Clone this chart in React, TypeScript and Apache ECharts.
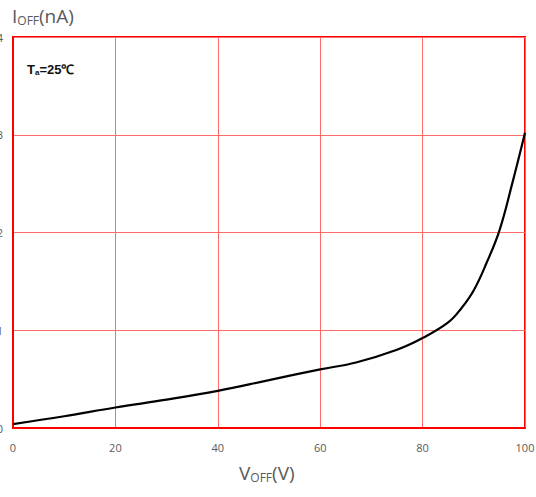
import React, { useEffect, useRef } from "react";
import * as echarts from "echarts";

const xTicks = [0, 20, 40, 60, 80, 100];
const yTicks = [0, 1, 2, 3, 4];
const curveX = [0, 10, 20, 30, 40, 50, 60, 67, 75, 80, 85, 87.5, 90, 92.5, 95, 97.5, 100];
const curveY = [0.04, 0.12, 0.21, 0.29, 0.38, 0.49, 0.6, 0.67, 0.8, 0.92, 1.08, 1.22, 1.41, 1.69, 2.02, 2.5, 3.02];

export default function App() {
  const ref = useRef<HTMLDivElement>(null);
  useEffect(() => {
    if (!ref.current) return;
    const chart = echarts.init(ref.current, null, { renderer: "svg" });
    const font = "'Open Sans', 'Noto Sans', sans-serif";
    chart.setOption({
      animation: false,
      backgroundColor: "#ffffff",
      grid: {
        left: 13,
        right: 11,
        top: 37,
        bottom: 69,
        containLabel: false,
        outerBoundsMode: "none",
        show: true,
        borderColor: "#ff0000",
        borderWidth: 2,
        backgroundColor: "transparent",
      },
      xAxis: {
        type: "value",
        min: xTicks[0],
        max: xTicks[xTicks.length - 1],
        interval: 20,
        axisLine: { show: true, lineStyle: { color: "#ff0000", width: 2 } },
        axisTick: { show: false },
        splitLine: { show: true, lineStyle: { color: "#ff6b6b", width: 1 } },
        axisLabel: { color: "#595959", fontSize: 11, margin: 14, fontFamily: font },
      },
      yAxis: {
        type: "value",
        min: yTicks[0],
        max: yTicks[yTicks.length - 1],
        interval: 1,
        axisLine: { show: true, lineStyle: { color: "#ff0000", width: 2 } },
        axisTick: { show: false },
        splitLine: { show: true, lineStyle: { color: "#ff6b6b", width: 1 } },
        axisLabel: { color: "#595959", fontSize: 11, margin: 10, fontFamily: font },
      },
      series: [
        {
          type: "line",
          data: curveX.map((x, i) => [x, curveY[i]]),
          smooth: 0.4,
          showSymbol: false,
          lineStyle: { color: "#000000", width: 2.2 },
          z: 5,
        },
      ],
      graphic: [
        {
          type: "text",
          left: 12,
          top: 6,
          style: {
            text: "{a|I}{b|OFF}{a|(nA)}",
            rich: {
              a: { fontSize: 19, fill: "#595959", fontFamily: font },
              b: { fontSize: 12, fill: "#595959", fontFamily: font, padding: [10, 0, 0, 0] },
            },
          },
        },
        {
          type: "text",
          left: 239,
          top: 463,
          style: {
            text: "{a|V}{b|OFF}{a|(V)}",
            rich: {
              a: { fontSize: 19, fill: "#595959", fontFamily: font },
              b: { fontSize: 12, fill: "#595959", fontFamily: font, padding: [10, 0, 0, 0] },
            },
          },
        },
        {
          type: "text",
          left: 27,
          top: 63,
          style: {
            text: "{a|T}{b|a}{a|=25℃}",
            rich: {
              a: { fontSize: 13, fontWeight: "bold", fill: "#111111", fontFamily: "'Liberation Sans Narrow', 'Liberation Sans', sans-serif" },
              b: { fontSize: 8, fontWeight: "bold", fill: "#111111", fontFamily: "'Liberation Sans Narrow', sans-serif", padding: [6, 0, 0, 0] },
            },
          },
        },
      ],
    });
    return () => chart.dispose();
  }, []);
  return (
    <div
      ref={ref}
      style={{ position: "absolute", left: 0, top: 0, width: 536, height: 497 }}
    />
  );
}
